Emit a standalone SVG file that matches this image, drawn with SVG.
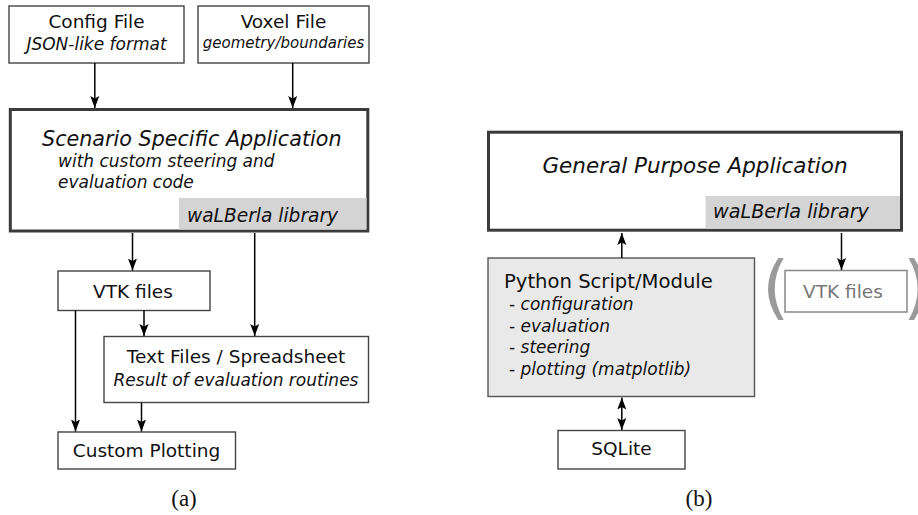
<svg xmlns="http://www.w3.org/2000/svg" width="918" height="515" viewBox="0 0 918 515">
<defs>
<marker id="ah" viewBox="0 0 12 10" refX="12" refY="5" markerWidth="12" markerHeight="10" markerUnits="userSpaceOnUse" orient="auto-start-reverse">
<path d="M0,0.5 L12,5 L0,9.5 L2.5,5 z" fill="#000"/>
</marker>
<style>
text{font-family:"DejaVu Sans","Liberation Sans",sans-serif;fill:#111}
.t{font-size:18.5px}
.i{font-style:italic}
.box{fill:#fff;stroke:#444;stroke-width:1.4}
.big{fill:#fff;stroke:#3a3a3a;stroke-width:3}
.lib{fill:#d4d4d4}
.py{fill:#e9e9e9;stroke:#555;stroke-width:1.4}
.ghost{fill:#fff;stroke:#888;stroke-width:1.5}
.conn line{stroke:#000;stroke-width:1.5;fill:none}
.cap{font-family:"Liberation Serif","DejaVu Serif",serif;font-size:23px}
.par{font-size:70px;fill:#9a9a9a}
</style>
</defs>
<rect width="918" height="515" fill="#fff"/>

<g id="config">
<rect class="box" x="9" y="6" width="175" height="57"/>
<text class="t" x="96.5" y="28" text-anchor="middle">Config File</text>
<text class="i" x="96.5" y="50" font-size="17" text-anchor="middle">JSON-like format</text>
</g>
<g id="voxel">
<rect class="box" x="198" y="6" width="171" height="57"/>
<text class="t" x="283.5" y="28" text-anchor="middle">Voxel File</text>
<text class="i" x="283.5" y="48" font-size="15" text-anchor="middle">geometry/boundaries</text>
</g>
<g id="scenario">
<rect class="big" x="10.3" y="109.5" width="357.5" height="121.5"/>
<rect class="lib" x="179" y="198" width="187.5" height="31.5"/>
<text class="i" x="42" y="146" font-size="20.7">Scenario Specific Application</text>
<text class="i" x="58" y="167" font-size="17">with custom steering and</text>
<text class="i" x="58" y="188" font-size="17">evaluation code</text>
<text class="i" x="187" y="222" font-size="18.6">waLBerla library</text>
</g>
<g id="vtk-a">
<rect class="box" x="58" y="271" width="152" height="39.5"/>
<text class="t" x="133" y="298" text-anchor="middle">VTK files</text>
</g>
<g id="textfiles">
<rect class="box" x="104" y="336.5" width="264.5" height="66"/>
<text class="t" x="236" y="363" text-anchor="middle">Text Files / Spreadsheet</text>
<text class="i" x="236" y="385.7" font-size="17" text-anchor="middle">Result of evaluation routines</text>
</g>
<g id="plotting">
<rect class="box" x="58" y="432" width="177.5" height="37"/>
<text class="t" x="146.5" y="456.7" text-anchor="middle">Custom Plotting</text>
</g>
<text class="cap" x="184" y="506" text-anchor="middle">(a)</text>

<g id="general">
<rect class="big" x="488.5" y="132.2" width="413" height="98"/>
<rect class="lib" x="705.5" y="196" width="194.5" height="32.7"/>
<text class="i" x="695" y="172.7" font-size="21.5" text-anchor="middle">General Purpose Application</text>
<text class="i" x="713" y="218" font-size="19.2">waLBerla library</text>
</g>
<g id="python">
<rect class="py" x="488" y="258" width="266.5" height="138.5"/>
<text x="504" y="288.3" font-size="19.6">Python Script/Module</text>
<text x="509" y="310" font-size="17">- <tspan class="i">configuration</tspan></text>
<text x="509" y="331.7" font-size="17">- <tspan class="i">evaluation</tspan></text>
<text x="509" y="353.3" font-size="17">- <tspan class="i">steering</tspan></text>
<text x="509" y="375" font-size="17">- <tspan class="i">plotting (matplotlib)</tspan></text>
</g>
<g id="vtk-b">
<rect class="ghost" x="785" y="270.5" width="122" height="41.5"/>
<text x="843" y="298" font-size="18.5" text-anchor="middle" style="fill:#777">VTK files</text>
<text class="par" x="762" y="311">(</text>
<text class="par" x="903" y="311">)</text>
</g>
<g id="sqlite">
<rect class="box" x="558" y="430.5" width="127" height="38.5"/>
<text class="t" x="621.5" y="455" text-anchor="middle">SQLite</text>
</g>
<text class="cap" x="699" y="506" text-anchor="middle">(b)</text>

<g class="conn" id="connectors">
<line x1="94.8" y1="63" x2="94.8" y2="108" marker-end="url(#ah)"/>
<line x1="292.7" y1="63" x2="292.7" y2="108" marker-end="url(#ah)"/>
<line x1="132.5" y1="233" x2="132.5" y2="270.5" marker-end="url(#ah)"/>
<line x1="254.7" y1="233" x2="254.7" y2="336" marker-end="url(#ah)"/>
<line x1="144" y1="310.5" x2="144" y2="336" marker-end="url(#ah)"/>
<line x1="75.5" y1="310.5" x2="75.5" y2="431.5" marker-end="url(#ah)"/>
<line x1="141.5" y1="403" x2="141.5" y2="431.5" marker-end="url(#ah)"/>
<line x1="621.8" y1="258" x2="621.8" y2="233" marker-end="url(#ah)"/>
<line x1="841.5" y1="233" x2="841.5" y2="270" marker-end="url(#ah)"/>
<line x1="621.8" y1="397.5" x2="621.8" y2="430" marker-start="url(#ah)" marker-end="url(#ah)"/>
</g>
</svg>
